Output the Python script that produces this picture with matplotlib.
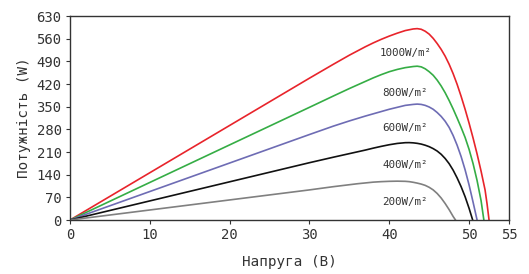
import matplotlib
matplotlib.use("Agg")
import matplotlib.pyplot as plt

# Data (voltage V, power W)
v_1000 = [0, 10, 20, 30, 33, 35, 37, 38, 39, 40, 41, 42, 43, 43.5, 44, 44.5, 45, 45.5, 46, 46.5,
          47, 47.5, 48, 48.5, 49, 49.5, 50, 50.5, 51, 51.5, 52, 52.25, 52.5]
p_1000 = [0, 146, 292, 438, 481, 509, 535, 547, 558, 568, 577, 585, 590, 591, 589, 583, 574, 561, 545, 527,
          506, 481, 452, 419, 382, 342, 299, 253, 204, 151, 93, 50, 0]

v_800 = [0, 10, 20, 30, 33, 35, 37, 38, 39, 40, 41, 42, 43, 43.5, 44, 44.5, 45, 45.5, 46, 46.5,
         47, 47.5, 48, 48.5, 49, 49.5, 50, 50.5, 51, 51.5, 51.85]
p_800 = [0, 116, 232, 348, 383, 406, 428, 439, 449, 458, 465, 470.5, 474, 475, 473, 467, 458, 447, 432, 414,
         393, 369, 343, 315, 286, 255, 218, 174, 122, 60, 0]

v_600 = [0, 10, 20, 30, 33, 35, 37, 38, 39, 40, 41, 42, 43, 43.5, 44, 44.5, 45, 45.5, 46, 46.5,
         47, 47.5, 48, 48.5, 49, 49.5, 50, 50.5, 51.0]
p_600 = [0, 88, 176, 264, 290, 306, 321, 328, 335, 342, 348, 354, 357, 358, 357, 354, 349, 342, 332, 320,
         305, 286, 261, 231, 196, 155, 108, 55, 0]

v_400 = [0, 10, 20, 30, 33, 35, 37, 38, 39, 40, 41, 42, 42.5, 43, 43.5, 44, 44.5, 45, 45.5, 46, 46.5,
         47, 47.5, 48, 48.5, 49, 49.5, 50, 50.45]
p_400 = [0, 59, 118, 177, 194, 205, 216, 222, 227.5, 232.5, 236.5, 238.8, 239, 238.3, 236.8, 234.5, 231, 226.5,
         220.5, 213, 203, 190, 174, 154, 130, 103, 72, 36, 0]

v_200 = [0, 10, 20, 30, 33, 35, 36, 38, 39, 40, 41, 42, 42.5, 43, 43.5, 44, 44.5, 45, 45.5, 46,
         46.5, 47, 47.5, 48, 48.3]
p_200 = [0, 31, 62, 93, 103, 109, 112, 117, 118.5, 119.5, 120, 119.5, 118.5, 116.5, 114, 111, 107, 101, 93, 82,
         68, 51, 32, 11, 0]

series = [
    (v_1000, p_1000, "#e8242b", "1000W/m²", 516),
    (v_800, p_800, "#35ad45", "800W/m²", 392),
    (v_600, p_600, "#6e6cb4", "600W/m²", 283),
    (v_400, p_400, "#111111", "400W/m²", 171),
    (v_200, p_200, "#808080", "200W/m²", 57),
]

x_ticks = [0, 10, 20, 30, 40, 50, 55]
y_ticks = [0, 70, 140, 210, 280, 350, 420, 490, 560, 630]

plt.rcParams['font.family'] = ['DejaVu Sans Mono']

fig = plt.figure(figsize=(5.29, 2.74), dpi=100)
ax = fig.add_axes([0.1323, 0.197, 0.8299, 0.7446])

for v, p, c, lab, ly in series:
    ax.plot(v, p, color=c, lw=1.2, solid_joinstyle='round', solid_capstyle='round')
    ax.text(42.0, ly, lab, ha='center', va='center', fontsize=7.8, color='#333333')

ax.set_xlim(0, 55)
ax.set_ylim(0, 630)
ax.set_xticks(x_ticks)
ax.set_yticks(y_ticks)
ax.tick_params(labelsize=10, colors='#333333', length=3, width=0.8, pad=3)
for s in ax.spines.values():
    s.set_color('#333333')
    s.set_linewidth(1.0)
ax.set_xlabel('Напруга (В)', fontsize=10.3, color='#333333', labelpad=9)
ax.set_ylabel('Потужність (W)', fontsize=10.3, color='#333333', labelpad=4)

fig.savefig('out.png', dpi=100)
